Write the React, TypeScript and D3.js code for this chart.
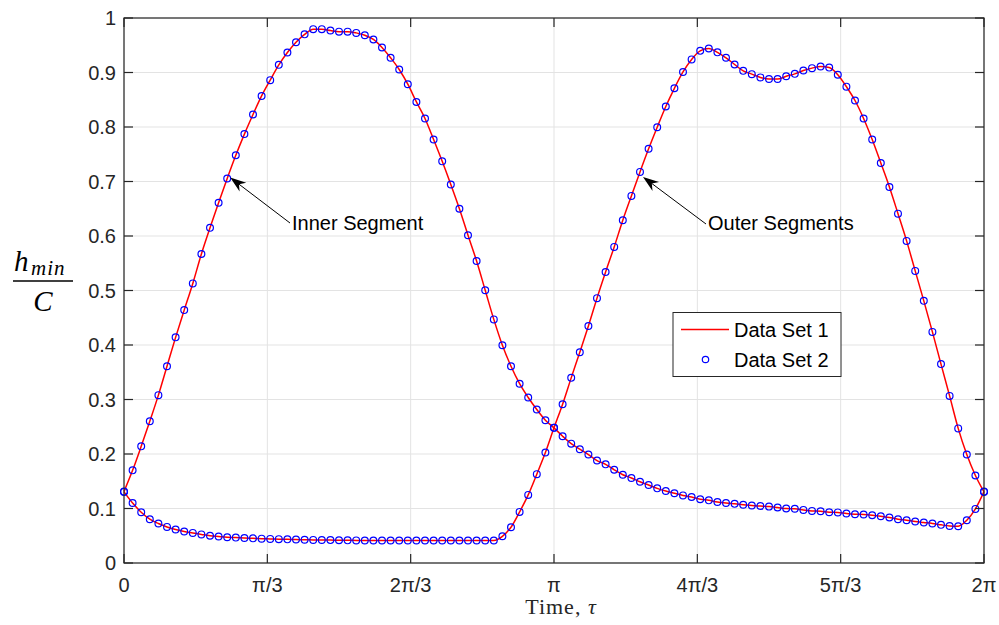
import React from "react";
import * as d3 from "d3";

const N_INTERVALS = 100;

const innerSegment: number[] = [
  0.131, 0.170, 0.214, 0.260, 0.308, 0.361, 0.414, 0.464, 0.513, 0.567,
  0.615, 0.661, 0.7055, 0.748, 0.787, 0.823, 0.857, 0.886, 0.914, 0.9367,
  0.9556, 0.970, 0.9795, 0.9795, 0.977, 0.975, 0.975, 0.9727, 0.9684, 0.9606,
  0.946, 0.927, 0.9055, 0.8785, 0.846, 0.8156, 0.777, 0.737, 0.6945, 0.650,
  0.6015, 0.554, 0.5005, 0.447, 0.3996, 0.361, 0.329, 0.3037, 0.2817, 0.262,
  0.248, 0.2327, 0.219, 0.2088, 0.199, 0.188, 0.181, 0.171, 0.162, 0.156,
  0.149, 0.143, 0.137, 0.132, 0.128, 0.124, 0.121, 0.117, 0.115, 0.112,
  0.110, 0.1085, 0.107, 0.1055, 0.1045, 0.1035, 0.1018, 0.100, 0.0995, 0.0974,
  0.0956, 0.095, 0.0932, 0.0928, 0.0908, 0.0895, 0.089, 0.0877, 0.0859, 0.0835,
  0.0804, 0.0785, 0.0761, 0.0743, 0.0725, 0.070, 0.068, 0.0675, 0.0785, 0.0993,
  0.131,
];

const outerSegments: number[] = [
  0.1305, 0.110, 0.0932, 0.0804, 0.0725, 0.0662, 0.0615, 0.0578, 0.0552, 0.0525,
  0.050, 0.0486, 0.0473, 0.0466, 0.0458, 0.0452, 0.0447, 0.0442, 0.0438, 0.0434,
  0.043, 0.0427, 0.0424, 0.0422, 0.042, 0.0418, 0.0416, 0.0415, 0.0414, 0.0413,
  0.0413, 0.0413, 0.0413, 0.0413, 0.0413, 0.0413, 0.0413, 0.0413, 0.0413, 0.0413,
  0.0413, 0.0413, 0.0413, 0.0413, 0.049, 0.0657, 0.0938, 0.125, 0.163, 0.2027,
  0.248, 0.2914, 0.3397, 0.3868, 0.435, 0.486, 0.534, 0.580, 0.629, 0.6736,
  0.7176, 0.760, 0.7996, 0.8376, 0.871, 0.901, 0.924, 0.9397, 0.944, 0.937,
  0.927, 0.9147, 0.903, 0.897, 0.891, 0.888, 0.888, 0.893, 0.8975, 0.9037,
  0.908, 0.911, 0.909, 0.896, 0.874, 0.8486, 0.8156, 0.777, 0.734, 0.690,
  0.641, 0.591, 0.536, 0.481, 0.424, 0.365, 0.3066, 0.247, 0.199, 0.1606,
  0.1305,
];

const xTickValues: number[] = [0, Math.PI / 3, (2 * Math.PI) / 3, Math.PI, (4 * Math.PI) / 3, (5 * Math.PI) / 3, 2 * Math.PI];
const xTickLabels: string[] = ["0", "π/3", "2π/3", "π", "4π/3", "5π/3", "2π"];
const yTickValues: number[] = [0, 0.1, 0.2, 0.3, 0.4, 0.5, 0.6, 0.7, 0.8, 0.9, 1];
const yTickLabels: string[] = ["0", "0.1", "0.2", "0.3", "0.4", "0.5", "0.6", "0.7", "0.8", "0.9", "1"];
const legendLabels: string[] = ["Data Set 1", "Data Set 2"];
const annotations = [
  { text: "Inner Segment", series: 0, index: 12 },
  { text: "Outer Segments", series: 1, index: 60 },
];

const W = 999;
const H = 625;
const L = 124, R = 984, T = 18, B = 563;
const AX = "#262626";
const GRID = "#e3e3e3";
const FONT = "'Liberation Sans', Arial, Helvetica, sans-serif";
const SERIF = "'Liberation Serif', 'Times New Roman', serif";

export default function App() {
  const x = d3.scaleLinear().domain([0, 2 * Math.PI]).range([L, R]);
  const y = d3.scaleLinear().domain([0, 1]).range([B, T]);
  const ts = d3.range(N_INTERVALS + 1).map((i) => (2 * Math.PI * i) / N_INTERVALS);
  const seriesList = [innerSegment, outerSegments];
  const line = d3
    .line<number>()
    .x((_, i) => x(ts[i]))
    .y((v) => y(v))
    .curve(d3.curveMonotoneX);
  const tick = 9;

  const arrow = (tx: number, ty: number, sx: number, sy: number) => {
    const ang = Math.atan2(ty - sy, tx - sx);
    const len = 16, wid = 5.5, back = 11;
    const ux = Math.cos(ang), uy = Math.sin(ang);
    const px = -uy, py = ux;
    const bx = tx - ux * len, by = ty - uy * len;
    const cx = tx - ux * back, cy = ty - uy * back;
    return (
      <g>
        <line x1={sx} y1={sy} x2={cx} y2={cy} stroke="#000" strokeWidth={1} />
        <path
          d={`M${tx},${ty} L${bx + px * wid},${by + py * wid} L${cx},${cy} L${bx - px * wid},${by - py * wid} Z`}
          fill="#000"
        />
      </g>
    );
  };

  return (
    <svg width={W} height={H} style={{ position: "absolute", left: 0, top: 0, background: "#fff" }}>
      <rect x={0} y={0} width={W} height={H} fill="#fff" />
      {/* grid */}
      {xTickValues.map((v, i) => (
        <line key={"gx" + i} x1={x(v)} x2={x(v)} y1={T} y2={B} stroke={GRID} strokeWidth={1} />
      ))}
      {yTickValues.map((v, i) => (
        <line key={"gy" + i} x1={L} x2={R} y1={y(v)} y2={y(v)} stroke={GRID} strokeWidth={1} />
      ))}
      {/* data */}
      {seriesList.map((s, k) => (
        <path key={"l" + k} d={line(s) || ""} fill="none" stroke="#ff0000" strokeWidth={1.5} />
      ))}
      {seriesList.map((s, k) => (
        <g key={"m" + k}>
          {s.map((v, i) => (
            <circle key={i} cx={x(ts[i])} cy={y(v)} r={3.4} fill="none" stroke="#0000ff" strokeWidth={1.2} />
          ))}
        </g>
      ))}
      {/* axes box */}
      <rect x={L} y={T} width={R - L} height={B - T} fill="none" stroke={AX} strokeWidth={1.2} />
      {xTickValues.map((v, i) => (
        <g key={"tx" + i}>
          <line x1={x(v)} x2={x(v)} y1={B} y2={B - tick} stroke={AX} strokeWidth={1.2} />
          <line x1={x(v)} x2={x(v)} y1={T} y2={T + tick} stroke={AX} strokeWidth={1.2} />
          <text x={x(v)} y={592} textAnchor="middle" fontFamily={FONT} fontSize={20} fill={AX}>
            {xTickLabels[i]}
          </text>
        </g>
      ))}
      {yTickValues.map((v, i) => (
        <g key={"ty" + i}>
          <line x1={L} x2={L + tick} y1={y(v)} y2={y(v)} stroke={AX} strokeWidth={1.2} />
          <line x1={R} x2={R - tick} y1={y(v)} y2={y(v)} stroke={AX} strokeWidth={1.2} />
          <text x={116} y={y(v) + 7} textAnchor="end" fontFamily={FONT} fontSize={20} fill={AX}>
            {yTickLabels[i]}
          </text>
        </g>
      ))}
      {/* axis labels */}
      <text x={561} y={614} textAnchor="middle" fontFamily={SERIF} fontSize={22} letterSpacing={1} fill={AX}>
        Time, <tspan fontStyle="italic">τ</tspan>
      </text>
      <g fontFamily={SERIF} fontStyle="italic" fill="#000">
        <text x={14} y={271} fontSize={29}>h</text>
        <text x={31} y={275} fontSize={21} letterSpacing={1}>min</text>
        <line x1={13} x2={73} y1={281} y2={281} stroke="#000" strokeWidth={1.5} />
        <text x={43} y={311} fontSize={29} textAnchor="middle">C</text>
      </g>
      {/* annotations */}
      {arrow(x(ts[annotations[0].index]) + 3, y(innerSegment[annotations[0].index]) - 1, 290, 223)}
      <text x={292} y={230} fontFamily={FONT} fontSize={20} fill="#000">{annotations[0].text}</text>
      {arrow(x(ts[annotations[1].index]) + 3, y(outerSegments[annotations[1].index]) + 5, 706, 224)}
      <text x={708} y={230} fontFamily={FONT} fontSize={20} fill="#000">{annotations[1].text}</text>
      {/* legend */}
      <rect x={673} y={312.5} width={168} height={64} fill="#fff" stroke={AX} strokeWidth={1} />
      <line x1={681} x2={729} y1={329.5} y2={329.5} stroke="#ff0000" strokeWidth={1.5} />
      <circle cx={705.5} cy={359.5} r={3.2} fill="none" stroke="#0000ff" strokeWidth={1.2} />
      <text x={734} y={337} fontFamily={FONT} fontSize={20} fill="#000">{legendLabels[0]}</text>
      <text x={734} y={367} fontFamily={FONT} fontSize={20} fill="#000">{legendLabels[1]}</text>
    </svg>
  );
}
